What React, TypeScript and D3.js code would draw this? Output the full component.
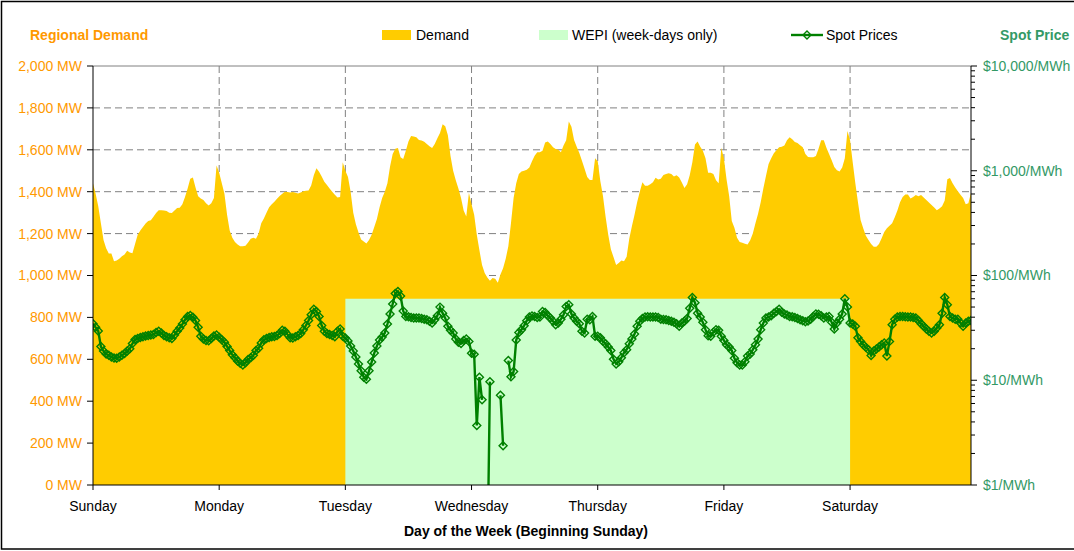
import * as d3 from 'd3'

const days = ['Sunday', 'Monday', 'Tuesday', 'Wednesday', 'Thursday', 'Friday', 'Saturday']

// half-hourly regional demand (MW), one array per day
const demandSun = [1440, 1390, 1330, 1250, 1170, 1130, 1105, 1105, 1068, 1072, 1080, 1092, 1100, 1118, 1110, 1106, 1150, 1195, 1215, 1232, 1248, 1260, 1264, 1280, 1298, 1312, 1312, 1310, 1308, 1300, 1298, 1310, 1322, 1323, 1340, 1375, 1415, 1462, 1468, 1420, 1378, 1368, 1360, 1345, 1334, 1345, 1370, 1525]
const demandMon = [1490, 1440, 1390, 1290, 1215, 1180, 1160, 1148, 1140, 1140, 1142, 1158, 1175, 1180, 1175, 1200, 1250, 1272, 1300, 1326, 1340, 1352, 1366, 1380, 1390, 1400, 1398, 1396, 1398, 1395, 1392, 1396, 1402, 1404, 1406, 1430, 1478, 1512, 1495, 1472, 1448, 1432, 1415, 1400, 1386, 1372, 1375, 1540]
const demandTue = [1500, 1470, 1400, 1300, 1245, 1205, 1172, 1162, 1153, 1170, 1195, 1232, 1270, 1325, 1370, 1400, 1440, 1520, 1580, 1605, 1608, 1565, 1556, 1595, 1640, 1666, 1664, 1660, 1647, 1644, 1638, 1628, 1617, 1608, 1628, 1655, 1680, 1722, 1712, 1670, 1570, 1500, 1455, 1415, 1370, 1310, 1282, 1395]
const demandWed = [1340, 1290, 1195, 1120, 1050, 1012, 990, 975, 988, 985, 965, 1005, 1035, 1080, 1140, 1250, 1370, 1440, 1485, 1496, 1500, 1505, 1515, 1545, 1572, 1588, 1588, 1595, 1635, 1640, 1628, 1612, 1604, 1600, 1588, 1620, 1645, 1735, 1710, 1647, 1615, 1585, 1548, 1510, 1470, 1456, 1456, 1560]
const demandThu = [1545, 1450, 1380, 1280, 1195, 1125, 1088, 1050, 1060, 1072, 1068, 1090, 1175, 1235, 1290, 1350, 1400, 1445, 1428, 1428, 1436, 1445, 1466, 1458, 1462, 1480, 1484, 1488, 1484, 1472, 1478, 1468, 1444, 1418, 1435, 1478, 1540, 1625, 1640, 1615, 1595, 1560, 1490, 1490, 1485, 1455, 1440, 1610]
const demandFri = [1560, 1460, 1380, 1260, 1228, 1180, 1160, 1156, 1152, 1148, 1168, 1200, 1250, 1295, 1350, 1415, 1475, 1532, 1560, 1583, 1598, 1612, 1614, 1620, 1645, 1660, 1650, 1637, 1632, 1622, 1612, 1580, 1566, 1565, 1564, 1570, 1605, 1645, 1645, 1610, 1580, 1550, 1518, 1502, 1496, 1515, 1560, 1690]
const demandSat = [1645, 1540, 1440, 1350, 1265, 1225, 1190, 1170, 1150, 1137, 1137, 1150, 1178, 1208, 1225, 1238, 1250, 1278, 1310, 1350, 1375, 1387, 1387, 1368, 1375, 1384, 1378, 1384, 1372, 1360, 1348, 1336, 1324, 1312, 1320, 1330, 1358, 1460, 1465, 1440, 1420, 1402, 1385, 1370, 1340, 1345, 1395]

// half-hourly spot prices ($/MWh), null = no price
const priceSun = [34.7, 32, 29.5, 21, 19, 17.8, 17.3, 16.7, 16.3, 16.2, 16.7, 17.3, 18, 19, 20, 22.4, 24.5, 25, 25.6, 26, 26.5, 26.8, 27, 27.4, 28.6, 29.4, 28.3, 26.8, 26, 25.4, 25, 27, 29.4, 31.5, 34.4, 37.8, 40.7, 41.6, 40, 37.2, 32, 26.3, 24.7, 24, 23.8, 25, 26.5, 27]
const priceMon = [25.7, 24.4, 23, 21, 19.2, 17.5, 16.4, 15.3, 14.5, 14, 14.7, 15.8, 16.4, 17.3, 19.2, 20.2, 22.7, 24.4, 25, 25.6, 26, 26.2, 26.8, 28, 30, 29.4, 27.3, 25.5, 25.3, 26, 26.8, 28, 30.4, 33.3, 37.2, 42.1, 47.7, 45.4, 40.7, 33.3, 29.4, 28, 27.4, 26.8, 26, 29.4, 30.8, 26.3]
const priceTue = [25.3, 23.7, 21.2, 19, 16.7, 14.3, 12.3, 10.7, 10.2, 12.3, 14.9, 18.2, 21.2, 24.2, 25.9, 28.3, 34.4, 42.9, 53.5, 67.3, 70.5, 63.7, 45.9, 40.6, 40.4, 39.8, 39.2, 39.2, 39.2, 38.9, 38.3, 37.8, 36.5, 35.2, 37.8, 41.3, 49.9, 43.7, 39.2, 32.7, 30, 28.3, 24.8, 23, 22.4, 24, 24.8, 23.5]
const priceWed = [18.1, 17.7, 3.7, 10.7, 6.5, null, 0.15, 9.7, null, null, null, 7.2, 2.37, null, 15.4, 10.8, 12.1, 24.2, 28.5, 30.4, 33.2, 37, 40.1, 41, 40.7, 39.8, 40.1, 45.3, 44.3, 41.3, 39.2, 36.5, 33.9, 35.2, 38.3, 42.1, 50.6, 52.5, 43, 39.2, 36.5, 34.7, 29.4, 28.3, 38.3, 37.8, 40.7, 26.3]
const priceThu = [26.3, 25.4, 23.5, 22.3, 20.8, 19.2, 15.9, 14.3, 15, 16.4, 18.3, 19.6, 22.3, 24.8, 27.6, 32.7, 36.5, 38.9, 40.1, 40.4, 40.1, 40.1, 40.1, 39.8, 38.3, 38, 37.8, 37.2, 36.5, 35.7, 34.7, 32.7, 35.2, 36.5, 38.9, 48.8, 61.8, 55, 43.7, 40.1, 35.7, 30.4, 26.6, 26.3, 28.8, 30.4, 30, 26.3]
const priceFri = [24, 21.8, 20.8, 19.2, 16.2, 14.7, 14, 14, 15, 17, 17.8, 19.6, 21.8, 24.8, 30.4, 35.2, 39.2, 40.1, 41.3, 43.7, 45.3, 47.6, 44.6, 43, 41.9, 40.7, 40.4, 39.8, 38.9, 37.8, 37, 36.2, 36.8, 38.3, 40.7, 43, 42.7, 41.3, 39.2, 40.1, 40.7, 35.7, 30.8, 35.2, 38.3, 43, 60, 50]
const priceSat = [35.2, 34.4, 32.7, 25.4, 23.5, 21.8, 20.6, 19.6, 17.2, 19, 19.9, 20.8, 21.8, 22.7, 17, 23.5, 33.9, 38.3, 40.1, 40.7, 40.7, 40.4, 40.1, 40.1, 39.8, 39.2, 37.2, 34.7, 32.7, 30.8, 29.4, 28.3, 29.4, 31.5, 33.9, 43.7, 61.8, 52.5, 40.7, 39.2, 38.3, 38.3, 35.2, 32.7, 35.2, 36.5, 37.2]

// WEPI level ($/MWh), weekdays Tuesday -> Saturday as drawn
const wepiPrice = 60
const wepiFromDay = 2
const wepiToDay = 6

const mwTicks = [0, 200, 400, 600, 800, 1000, 1200, 1400, 1600, 1800, 2000]
const priceTicks = [1, 10, 100, 1000, 10000]

const demand = [demandSun, demandMon, demandTue, demandWed, demandThu, demandFri, demandSat].flat()
const prices: (number | null)[] = [priceSun, priceMon, priceTue, priceWed, priceThu, priceFri, priceSat].flat()

const PER_DAY = 48
const left = 93
const right = 971
const top = 66
const bottom = 485
const font = '"Liberation Sans", Arial, Helvetica, sans-serif'
const orange = '#FF9900'
const green = '#339966'
const lineGreen = '#008000'

const fmt = d3.format(',')

function Diamond({ x, y }: { x: number; y: number }) {
  return (
    <path
      d={`M${x},${y - 4}L${x + 4},${y}L${x},${y + 4}L${x - 4},${y}Z`}
      fill="none"
      stroke={lineGreen}
      strokeWidth={1.4}
    />
  )
}

export default function App() {
  const x = d3.scaleLinear().domain([0, demand.length - 1]).range([left, right])
  const yMW = d3.scaleLinear().domain([0, 2000]).range([bottom, top])
  const yPrice = d3.scaleLog().domain([1, 10000]).range([bottom, top])

  const area = d3
    .area<number>()
    .x((_, i) => x(i))
    .y0(yMW(0))
    .y1((d) => yMW(d))

  const line = d3
    .line<number | null>()
    .defined((d) => d != null)
    .x((_, i) => x(i))
    .y((d) => yPrice(d as number))

  const dayX = days.map((_, k) => x(k * PER_DAY))
  const minorTicks = priceTicks.slice(0, -1).flatMap((d) => d3.range(2, 10).map((m) => d * m))

  return (
    <div style={{ position: 'absolute', left: 0, top: 0 }}>
      <svg width={1074} height={551} style={{ display: 'block', fontFamily: font }}>
        <defs>
          <clipPath id="plot">
            <rect x={left} y={top} width={right - left} height={bottom - top} />
          </clipPath>
        </defs>
        <rect width={1074} height={551} fill="#fff" />
        <rect x={1.5} y={1.5} width={1100} height={547.5} fill="none" stroke="#000" strokeWidth={1.5} />

        {/* grid */}
        {mwTicks.slice(1, -1).map((t) => (
          <line key={t} x1={left} x2={right} y1={yMW(t)} y2={yMW(t)} stroke="#808080" strokeDasharray="7,4" />
        ))}
        {dayX.slice(1).map((dx, i) => (
          <line key={i} x1={dx} x2={dx} y1={top} y2={bottom} stroke="#808080" strokeDasharray="7,4" />
        ))}
        <line x1={left} x2={right} y1={top} y2={top} stroke="#808080" />

        {/* series */}
        <path d={area(demand) ?? ''} fill="#FFCC00" />
        <rect
          x={x(wepiFromDay * PER_DAY)}
          y={yPrice(wepiPrice)}
          width={x(wepiToDay * PER_DAY) - x(wepiFromDay * PER_DAY)}
          height={bottom - yPrice(wepiPrice)}
          fill="#CCFFCC"
        />
        <g clipPath="url(#plot)">
          <path d={line(prices) ?? ''} fill="none" stroke={lineGreen} strokeWidth={2.4} />
          {prices.map((p, i) => (p == null ? null : <Diamond key={i} x={x(i)} y={yPrice(p)} />))}
        </g>

        {/* left axis */}
        <line x1={left} x2={left} y1={top} y2={bottom} stroke="#000" />
        {mwTicks.map((t) => (
          <g key={t}>
            <line x1={left - 6} x2={left} y1={yMW(t)} y2={yMW(t)} stroke="#000" />
            <text x={82} y={yMW(t)} dy="0.35em" textAnchor="end" fontSize={14} fill={orange}>
              {fmt(t)} MW
            </text>
          </g>
        ))}

        {/* right axis */}
        <line x1={right} x2={right} y1={top} y2={bottom} stroke="#000" />
        {minorTicks.map((t) => (
          <line key={t} x1={right} x2={right + 4} y1={yPrice(t)} y2={yPrice(t)} stroke="#000" />
        ))}
        {priceTicks.map((t) => (
          <g key={t}>
            <line x1={right} x2={right + 6} y1={yPrice(t)} y2={yPrice(t)} stroke="#000" />
            <text x={983} y={yPrice(t)} dy="0.35em" fontSize={14} fill={green}>
              ${fmt(t)}/MWh
            </text>
          </g>
        ))}

        {/* bottom axis */}
        <line x1={left} x2={right} y1={bottom} y2={bottom} stroke="#000" />
        {dayX.map((dx, i) => (
          <g key={i}>
            <line x1={dx} x2={dx} y1={bottom} y2={bottom + 5} stroke="#000" />
            <text x={dx} y={511} textAnchor="middle" fontSize={14} fill="#000">
              {days[i]}
            </text>
          </g>
        ))}
        <text x={526} y={536} textAnchor="middle" fontSize={14} fontWeight="bold" fill="#000">
          Day of the Week (Beginning Sunday)
        </text>

        {/* titles */}
        <text x={30} y={40} fontSize={14} fontWeight="bold" fill={orange}>
          Regional Demand
        </text>
        <text x={1000} y={40} fontSize={14} fontWeight="bold" fill={green}>
          Spot Price
        </text>

        {/* legend */}
        <rect x={382} y={30} width={29} height={10} fill="#FFCC00" />
        <text x={416} y={40} fontSize={14} fill="#000">Demand</text>
        <rect x={539} y={30} width={29} height={10} fill="#CCFFCC" />
        <text x={572} y={40} fontSize={14} fill="#000">WEPI (week-days only)</text>
        <line x1={791} x2={823} y1={35} y2={35} stroke={lineGreen} strokeWidth={2.4} />
        <Diamond x={807} y={35} />
        <text x={826} y={40} fontSize={14} fill="#000">Spot Prices</text>
      </svg>
    </div>
  )
}
